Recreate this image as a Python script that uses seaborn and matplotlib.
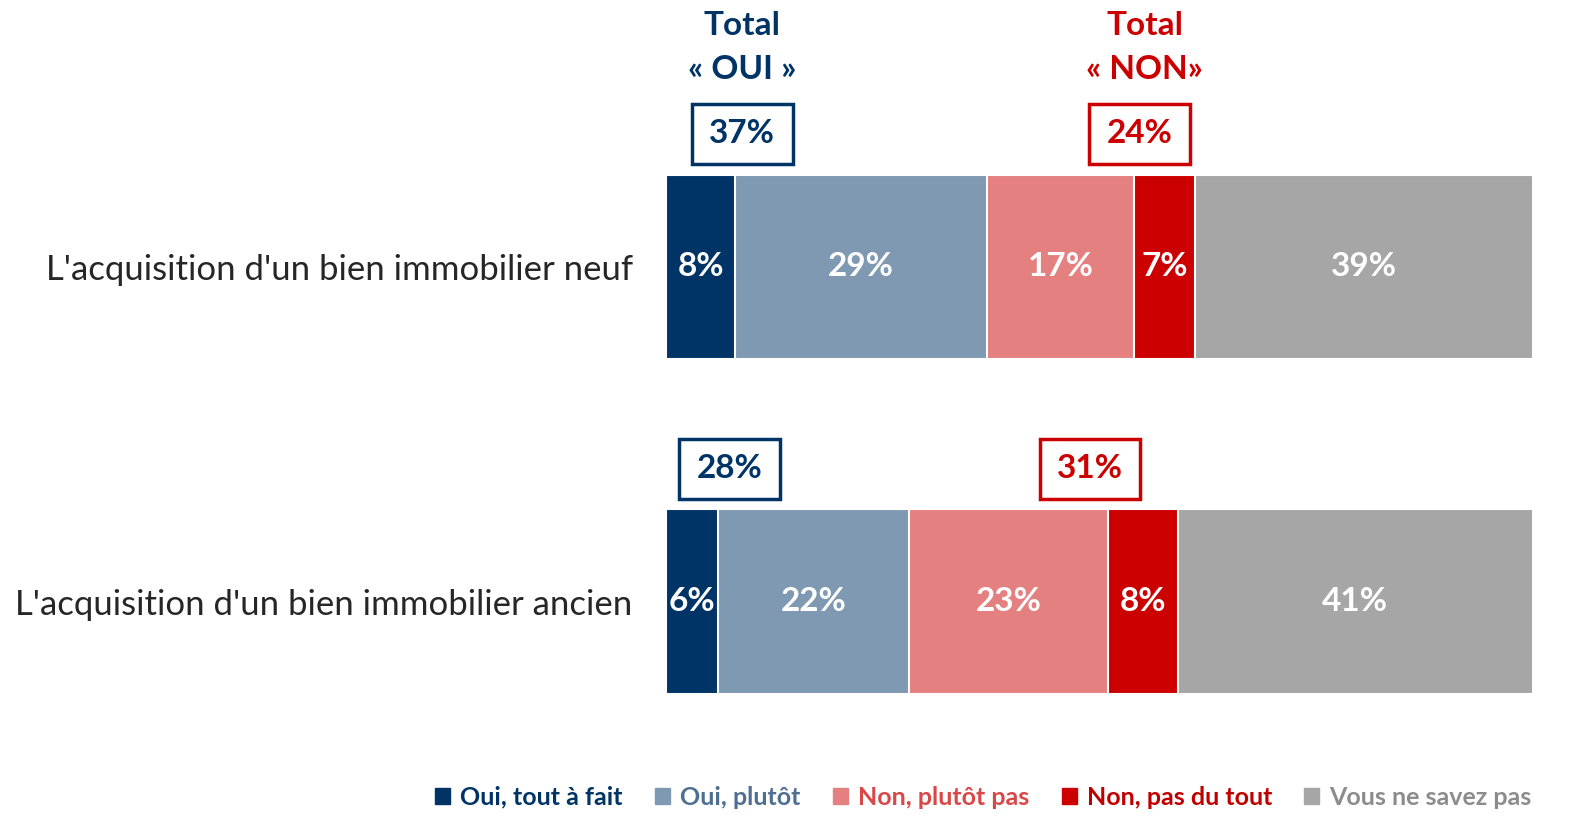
import numpy as np
import pandas as pd
import matplotlib.pyplot as plt
import matplotlib.patches as mpatches
import seaborn as sns

# données
items = ["L'acquisition d'un bien immobilier neuf",
         "L'acquisition d'un bien immobilier ancien"]
responses = ["Oui, tout à fait", "Oui, plutôt", "Non, plutôt pas",
             "Non, pas du tout", "Vous ne savez pas"]
vals_neuf = [8, 29, 17, 7, 39]
vals_ancien = [6, 22, 23, 8, 41]
total_oui = [37, 28]
total_non = [24, 31]

colors = ["#003366", "#7f99b2", "#e48080", "#cc0000", "#a6a6a6"]
legend_txt_colors = ["#003366", "#4f6f92", "#d94848", "#c00000", "#8c8c8c"]
NAVY, RED = "#003366", "#cc0000"

sns.set_style("white")
plt.rcParams["font.family"] = ["Lato", "DejaVu Sans"]

df = pd.DataFrame([vals_neuf, vals_ancien], index=items, columns=responses)
cum = df.cumsum(axis=1)

fig = plt.figure(figsize=(15.77, 8.16), dpi=100)
ax = fig.add_axes([666 / 1577, 0, 867 / 1577, 1])

# barres empilées : cumul dessiné du plus long au plus court
for i in reversed(range(len(responses))):
    d = pd.DataFrame({"item": items, "val": cum.iloc[:, i].values})
    sns.barplot(data=d, y="item", x="val", orient="h", color=colors[i],
                width=0.552, edgecolor="white", linewidth=1.5, ax=ax,
                saturation=1)

# étiquettes des segments
for r, item in enumerate(items):
    left = 0
    for j, resp in enumerate(responses):
        v = df.loc[item, resp]
        ax.text(left + v / 2, r, f"{v}%", ha="center", va="center",
                color="white", fontsize=24, fontweight="bold")
        left += v

ax.set_xlim(0, 100)
ax.set_ylim(1.639, -0.797)
ax.set_xlabel("")
ax.set_ylabel("")
ax.set_xticks([])
ax.tick_params(axis="y", length=0, pad=24, labelsize=25)
sns.despine(ax=ax, left=True, bottom=True)

# encadrés totaux
oui_pos = [8.8, 7.3]
non_pos = [54.6, 48.9]
box_w, box_h = 11.6, 0.179
box_y = [-0.398, 0.602]
for r in range(len(items)):
    for xc, val, col in [(oui_pos[r], total_oui[r], NAVY),
                         (non_pos[r], total_non[r], RED)]:
        ax.add_patch(mpatches.Rectangle((xc - box_w / 2, box_y[r] - box_h / 2),
                                        box_w, box_h, fill=False,
                                        edgecolor=col, linewidth=2.5,
                                        clip_on=False))
        ax.text(xc, box_y[r], f"{val}%", ha="center", va="center",
                color=col, fontsize=24, fontweight="bold")

ax.text(8.8, -0.655, "Total\n« OUI »", ha="center", va="center",
        color=NAVY, fontsize=24, fontweight="bold", linespacing=1.65)
ax.text(55.2, -0.655, "Total\n« NON»", ha="center", va="center",
        color=RED, fontsize=24, fontweight="bold", linespacing=1.65)

# légende
handles = [mpatches.Patch(color=c, label=l) for c, l in zip(colors, responses)]
leg = fig.legend(handles=handles, loc="center", bbox_to_anchor=(0.6235, 0.023),
                 ncol=5, frameon=False, handlelength=0.6, handleheight=0.6,
                 handletextpad=0.4, columnspacing=1.3,
                 prop={"weight": "bold", "size": 18})
for t, c in zip(leg.get_texts(), legend_txt_colors):
    t.set_color(c)

fig.savefig("out.png", dpi=100)
